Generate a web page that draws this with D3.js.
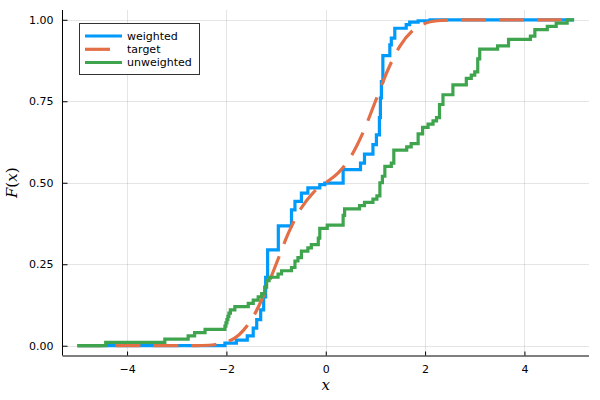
<!DOCTYPE html>
<html>
<head>
<meta charset="utf-8">
<script src="https://cdn.jsdelivr.net/npm/d3@7"></script>
<style>
  html, body { margin: 0; padding: 0; background: #fff; }
  svg { display: block; }
</style>
</head>
<body>
<svg id="chart" width="600" height="400"></svg>
<script>
// ---------------- data ----------------
const seriesNames = ["weighted", "target", "unweighted"];
const seriesColors = ["#009AFA", "#E36F47", "#3EA44E"];

// weighted ECDF (step function: x where step occurs, level after step)
const weightedX = [-5, -2.03, -1.80, -1.58, -1.46, -1.39, -1.31, -1.25, -1.21, -1.17,
  -0.955, -0.69, -0.62, -0.49, -0.36, -0.12, -0.02, 0.35, 0.70, 0.78,
  0.95, 1.02, 1.08, 1.10, 1.12, 1.15, 1.29, 1.32, 1.39, 1.62,
  1.69, 1.86, 2.1, 5];
const weightedY = [0, 0.008, 0.017, 0.03, 0.054, 0.08, 0.11, 0.15, 0.21, 0.294,
  0.368, 0.417, 0.443, 0.468, 0.484, 0.494, 0.499, 0.54, 0.56, 0.588,
  0.617, 0.647, 0.70, 0.76, 0.81, 0.89, 0.923, 0.944, 0.974, 0.985,
  0.993, 0.997, 1.0, 1.0];

// target CDF (smooth curve, read at regular x positions)
const targetX = [-5, -2.75, -2.5, -2.25, -2, -1.75, -1.5, -1.25, -1, -0.75, -0.5, -0.25, 0,
  0.25, 0.5, 0.75, 1, 1.25, 1.5, 1.75, 2, 2.25, 2.5, 2.75, 5];
const targetY = [0, 0.0001, 0.0007, 0.003, 0.011, 0.033, 0.079, 0.154, 0.25, 0.346, 0.421, 0.470, 0.5,
  0.530, 0.579, 0.654, 0.75, 0.846, 0.921, 0.967, 0.989, 0.997, 0.9993, 0.9999, 1];

// unweighted ECDF
const unweightedX = [-5, -4.43, -3.24, -2.77, -2.64, -2.43, -2.03, -2.01, -1.99, -1.97,
  -1.95, -1.92, -1.83, -1.56, -1.46, -1.36, -1.29, -1.23, -1.19, -1.14,
  -0.96, -0.89, -0.69, -0.62, -0.56, -0.49, -0.36, -0.29, -0.15, -0.12,
  0.03, 0.35, 0.38, 0.68, 0.78, 0.95, 1.03, 1.09, 1.14, 1.19,
  1.32, 1.37, 1.63, 1.72, 1.86, 1.95, 2.06, 2.16, 2.23, 2.29,
  2.36, 2.56, 2.83, 2.93, 3.00, 3.06, 3.10, 3.46, 3.68, 4.12,
  4.21, 4.46, 4.64, 4.86, 5];
const unweightedY = [0, 0.01, 0.02, 0.03, 0.04, 0.05, 0.06, 0.07, 0.08, 0.09,
  0.10, 0.11, 0.12, 0.13, 0.14, 0.15, 0.16, 0.18, 0.20, 0.21,
  0.22, 0.23, 0.24, 0.26, 0.27, 0.29, 0.30, 0.31, 0.33, 0.36,
  0.37, 0.40, 0.42, 0.43, 0.44, 0.45, 0.46, 0.50, 0.52, 0.55,
  0.56, 0.60, 0.61, 0.62, 0.65, 0.67, 0.68, 0.69, 0.70, 0.74,
  0.77, 0.80, 0.82, 0.83, 0.84, 0.88, 0.91, 0.92, 0.94, 0.95,
  0.97, 0.98, 0.99, 1.00, 1.00];

const xTicks = [-4, -2, 0, 2, 4];
const yTicks = [0, 0.25, 0.5, 0.75, 1.0];
const yTickLabels = ["0.00", "0.25", "0.50", "0.75", "1.00"];

// ---------------- layout ----------------
const svg = d3.select("#chart");
const L = 62.5, R = 589, T = 10, B = 355.5;
const x = d3.scaleLinear().domain([-5.3, 5.3]).range([L, R]);
const y = d3.scaleLinear().domain([-0.03, 1.03]).range([B, T]);
const tickFont = "DejaVu Sans, sans-serif";

// grid
const grid = svg.append("g");
grid.selectAll("line.gx").data(xTicks).join("line")
  .attr("x1", d => Math.round(x(d)) + 0.5).attr("x2", d => Math.round(x(d)) + 0.5)
  .attr("y1", T).attr("y2", B)
  .attr("stroke", "#000").attr("stroke-opacity", 0.1).attr("stroke-width", 1);
grid.selectAll("line.gy").data(yTicks).join("line")
  .attr("y1", d => Math.round(y(d)) + 0.5).attr("y2", d => Math.round(y(d)) + 0.5)
  .attr("x1", L).attr("x2", R)
  .attr("stroke", "#000").attr("stroke-opacity", 0.1).attr("stroke-width", 1);

// axes via d3 axis, ticks pointing inward
const xAxis = d3.axisBottom(x).tickValues(xTicks).tickSizeInner(-4).tickSizeOuter(0)
  .tickPadding(10).tickFormat(d => d < 0 ? "\u2212" + Math.abs(d) : String(d));
const gx = svg.append("g").attr("transform", `translate(0,${B})`).call(xAxis);
gx.select(".domain").attr("stroke", "#000").attr("d", `M${L},0.5H${R}`);
gx.selectAll(".tick line").attr("stroke", "#000");
gx.selectAll(".tick text").attr("font-family", tickFont).attr("font-size", 11).attr("fill", "#000");

const yAxis = d3.axisLeft(y).tickValues(yTicks).tickSizeInner(-5).tickSizeOuter(0)
  .tickPadding(9).tickFormat((d, i) => yTickLabels[i]);
const gy = svg.append("g").attr("transform", `translate(${L},0)`).call(yAxis);
gy.select(".domain").attr("stroke", "#000").attr("d", `M0,${T}V${B}`);
gy.selectAll(".tick line").attr("stroke", "#000");
gy.selectAll(".tick text").attr("font-family", tickFont).attr("font-size", 11).attr("fill", "#000");

// clip
svg.append("clipPath").attr("id", "clip").append("rect")
  .attr("x", L).attr("y", T).attr("width", R - L).attr("height", B - T);
const plot = svg.append("g").attr("clip-path", "url(#clip)");

const stepLine = d3.line().x(d => x(d[0])).y(d => y(d[1])).curve(d3.curveStepAfter);
const smoothLine = d3.line().x(d => x(d[0])).y(d => y(d[1])).curve(d3.curveMonotoneX);

plot.append("path").datum(d3.zip(weightedX, weightedY))
  .attr("d", stepLine).attr("fill", "none").attr("stroke", seriesColors[0])
  .attr("stroke-width", 3.2).attr("stroke-linejoin", "miter");
plot.append("path").datum(d3.zip(targetX, targetY))
  .attr("d", smoothLine).attr("fill", "none").attr("stroke", seriesColors[1])
  .attr("stroke-width", 3.2).attr("stroke-dasharray", "25,13");
plot.append("path").datum(d3.zip(unweightedX, unweightedY))
  .attr("d", stepLine).attr("fill", "none").attr("stroke", seriesColors[2])
  .attr("stroke-width", 3.2).attr("stroke-linejoin", "miter");

// legend
const lg = svg.append("g");
lg.append("rect").attr("x", 79.5).attr("y", 23.5).attr("width", 120).attr("height", 51)
  .attr("fill", "#fff").attr("stroke", "#333").attr("stroke-width", 1);
const rowY = [36, 49.3, 62.5];
seriesNames.forEach((name, i) => {
  lg.append("line").attr("x1", 85).attr("x2", 122).attr("y1", rowY[i]).attr("y2", rowY[i])
    .attr("stroke", seriesColors[i]).attr("stroke-width", 3.2)
    .attr("stroke-dasharray", i === 1 ? "25,13" : null);
  lg.append("text").attr("x", 127).attr("y", rowY[i]).attr("dy", "0.35em")
    .attr("font-family", tickFont).attr("font-size", 11).attr("fill", "#000").text(name);
});

// axis labels
const mathFont = "DejaVu Serif, Liberation Serif, serif";
svg.append("text").attr("x", (L + R) / 2).attr("y", 390).attr("text-anchor", "middle")
  .attr("font-family", mathFont).attr("font-style", "italic").attr("font-size", 15).text("x");
const yl = svg.append("text").attr("transform", `translate(17,${(T + B) / 2}) rotate(-90)`)
  .attr("text-anchor", "middle").attr("font-family", mathFont).attr("font-size", 15);
yl.append("tspan").attr("font-style", "italic").text("F");
yl.append("tspan").text("(");
yl.append("tspan").attr("font-style", "italic").text("x");
yl.append("tspan").text(")");
</script>
</body>
</html>
